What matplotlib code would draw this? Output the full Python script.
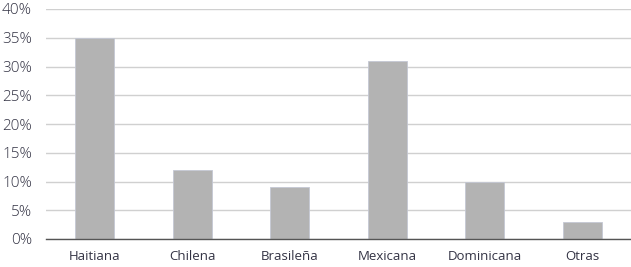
import matplotlib
matplotlib.use("Agg")
import matplotlib.pyplot as plt
from matplotlib.ticker import FuncFormatter

categories = ["Haitiana", "Chilena", "Brasileña", "Mexicana", "Dominicana", "Otras"]
values = [35, 12, 9, 31, 10, 3]
yticks = [0, 5, 10, 15, 20, 25, 30, 35, 40]

plt.rcParams['font.family'] = ['Open Sans', 'DejaVu Sans']
fig = plt.figure(figsize=(6.31, 2.67), dpi=100)
ax = fig.add_axes([46/631, 28/267, 585/631, 230/267])
x = list(range(len(categories)))
ax.bar(x, values, width=0.4, color="#b3b3b3", edgecolor="#c4c8d4", linewidth=0.6, zorder=3)
ax.set_xlim(-0.5, len(categories) - 0.5)
ax.set_ylim(0, 40)
ax.set_yticks(yticks)
ax.yaxis.set_major_formatter(FuncFormatter(lambda v, p: f"{int(v)}%"))
ax.set_xticks(x)
ax.set_xticklabels(categories)
ax.grid(axis="y", color="#d0d0d0", linewidth=1, zorder=0)
for s in ["top", "right", "left"]:
    ax.spines[s].set_visible(False)
ax.spines["bottom"].set_color("#555555")
ax.spines["bottom"].set_linewidth(1)
ax.spines["bottom"].set_zorder(4)
ax.tick_params(axis="both", length=0, colors="#333344")
ax.tick_params(axis="y", labelsize=11, pad=10)
ax.tick_params(axis="x", labelsize=9.5, pad=8)
for lab in ax.get_yticklabels():
    lab.set_fontweight("light")
fig.savefig("out.png", dpi=100)
